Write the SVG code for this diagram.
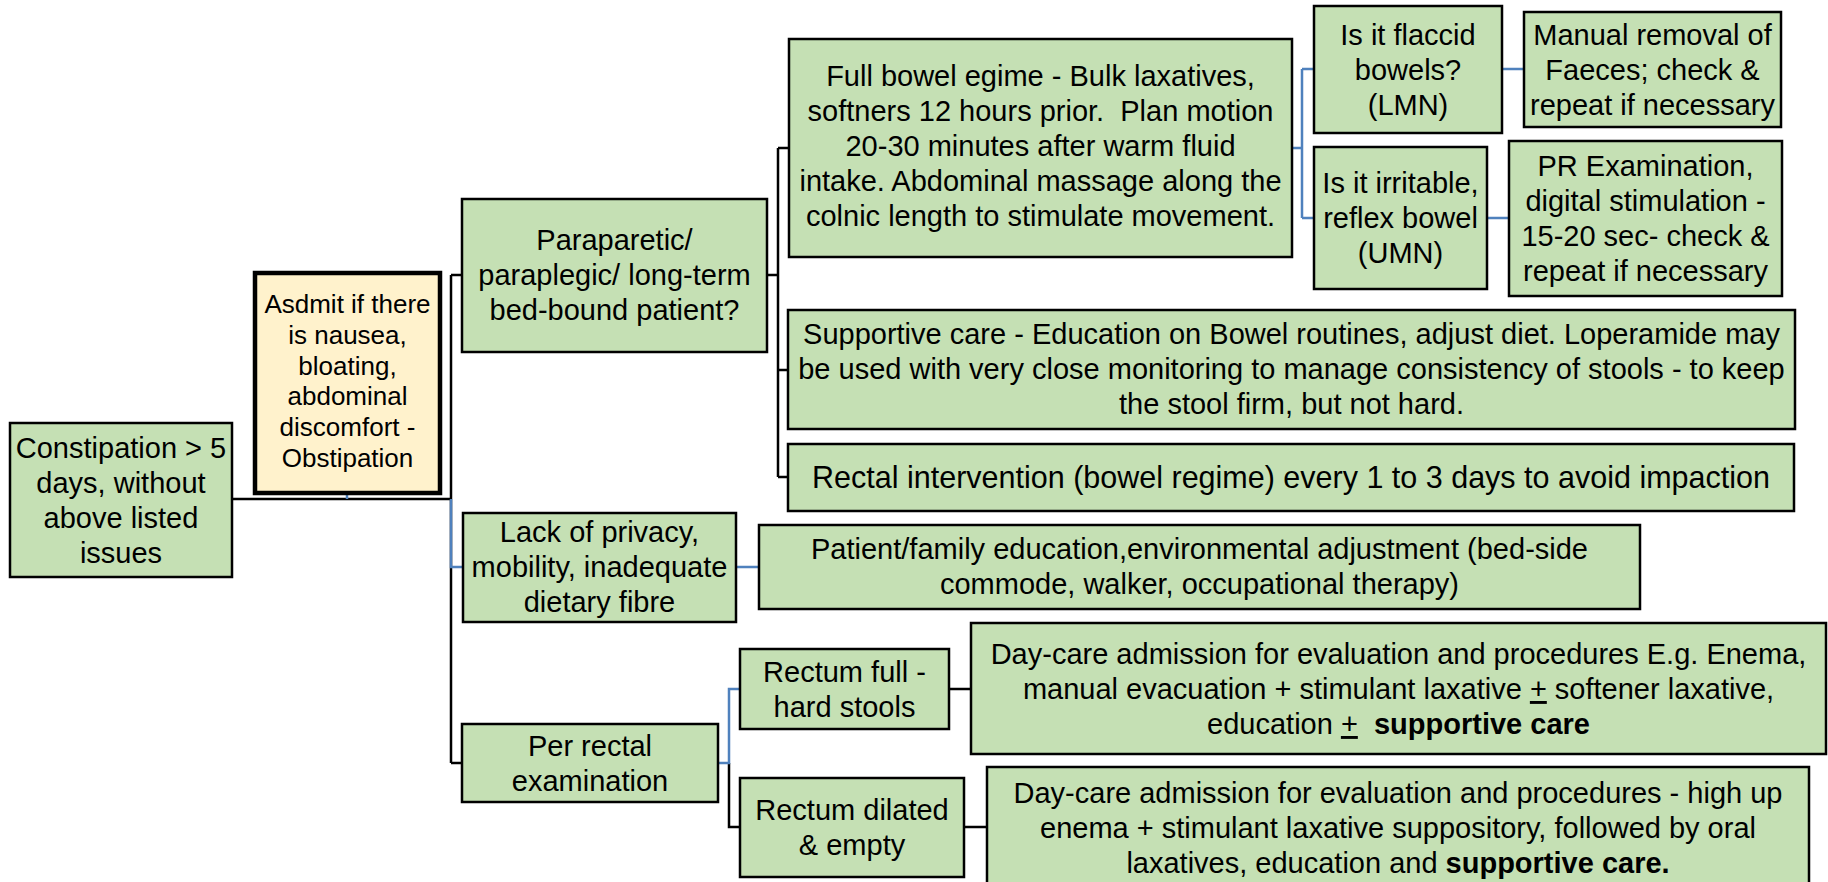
<svg xmlns="http://www.w3.org/2000/svg" width="1828" height="882" viewBox="0 0 1828 882">
<style>
.box{fill:#C5E0B4;stroke:#000;stroke-width:2.5}
.admit{fill:#FFF2CC;stroke:#000;stroke-width:4.5}
.t{font-family:"Liberation Sans",Arial,sans-serif;font-size:29px;fill:#000;text-anchor:middle}
.ts{font-size:26px}
.tl{font-size:30.5px}
.b{font-weight:bold}
.u{text-decoration:underline}
.ck{fill:none;stroke:#000;stroke-width:2.5}
.cb{fill:none;stroke:#4F81BD;stroke-width:2.5}
</style>
<rect width="1828" height="882" fill="#fff"/>
<g id="connectors">
<path class="ck" d="M232,499 H451 M451,275 V763 M451,275 H462 M451,763 H462"/>
<path class="ck" d="M767,275 H778 M778,148 V477 M778,148 H789 M778,370 H788 M778,477 H788"/>
<path class="ck" d="M729,763 V827 H740 M949,689 H971 M964,827 H987"/>
<path class="cb" d="M347,493 V499 M451,499 V567 H463 M736,567 H759"/>
<path class="cb" d="M718,763 H729 V689 H740"/>
<path class="cb" d="M1292,148 H1302 M1302,69 V218 M1302,69 H1314 M1302,218 H1314 M1502,69 H1524 M1487,218 H1509"/>
</g>
<g id="n_constip">
<rect class="box" x="10" y="423" width="222" height="154"/>
<text class="t"><tspan x="121" y="458">Constipation &gt; 5</tspan><tspan x="121" y="493">days, without</tspan><tspan x="121" y="528">above listed</tspan><tspan x="121" y="563">issues</tspan></text>
</g>
<g id="n_admit">
<rect class="admit" x="255" y="273" width="185" height="220"/>
<text class="t ts"><tspan x="347.5" y="313">Asdmit if there</tspan><tspan x="347.5" y="344">is nausea,</tspan><tspan x="347.5" y="375">bloating,</tspan><tspan x="347.5" y="405">abdominal</tspan><tspan x="347.5" y="436">discomfort -</tspan><tspan x="347.5" y="467">Obstipation</tspan></text>
</g>
<g id="n_para">
<rect class="box" x="462" y="199" width="305" height="153"/>
<text class="t"><tspan x="614.5" y="250">Paraparetic/</tspan><tspan x="614.5" y="285">paraplegic/ long-term</tspan><tspan x="614.5" y="320">bed-bound patient?</tspan></text>
</g>
<g id="n_lack">
<rect class="box" x="463" y="513" width="273" height="109"/>
<text class="t"><tspan x="599.5" y="542">Lack of privacy,</tspan><tspan x="599.5" y="577">mobility, inadequate</tspan><tspan x="599.5" y="612">dietary fibre</tspan></text>
</g>
<g id="n_pr">
<rect class="box" x="462" y="724" width="256" height="78"/>
<text class="t"><tspan x="590" y="756">Per rectal</tspan><tspan x="590" y="791">examination</tspan></text>
</g>
<g id="n_full">
<rect class="box" x="789" y="39" width="503" height="218"/>
<text class="t" xml:space="preserve"><tspan x="1040.5" y="86">Full bowel egime - Bulk laxatives,</tspan><tspan x="1040.5" y="121">softners 12 hours prior.  Plan motion</tspan><tspan x="1040.5" y="156">20-30 minutes after warm fluid</tspan><tspan x="1040.5" y="191">intake. Abdominal massage along the</tspan><tspan x="1040.5" y="226">colnic length to stimulate movement.</tspan></text>
</g>
<g id="n_supp">
<rect class="box" x="788" y="310" width="1007" height="119"/>
<text class="t"><tspan x="1291.5" y="344">Supportive care - Education on Bowel routines, adjust diet. Loperamide may</tspan><tspan x="1291.5" y="379">be used with very close monitoring to manage consistency of stools - to keep</tspan><tspan x="1291.5" y="414">the stool firm, but not hard.</tspan></text>
</g>
<g id="n_rectal">
<rect class="box" x="788" y="444" width="1006" height="67"/>
<text class="t tl"><tspan x="1291" y="488">Rectal intervention (bowel regime) every 1 to 3 days to avoid impaction</tspan></text>
</g>
<g id="n_flaccid">
<rect class="box" x="1314" y="6" width="188" height="127"/>
<text class="t"><tspan x="1408" y="45">Is it flaccid</tspan><tspan x="1408" y="80">bowels?</tspan><tspan x="1408" y="115">(LMN)</tspan></text>
</g>
<g id="n_irrit">
<rect class="box" x="1314" y="147" width="173" height="142"/>
<text class="t"><tspan x="1400.5" y="193">Is it irritable,</tspan><tspan x="1400.5" y="228">reflex bowel</tspan><tspan x="1400.5" y="263">(UMN)</tspan></text>
</g>
<g id="n_manual">
<rect class="box" x="1524" y="12" width="257" height="115"/>
<text class="t"><tspan x="1652.5" y="45">Manual removal of</tspan><tspan x="1652.5" y="80">Faeces; check &amp;</tspan><tspan x="1652.5" y="115">repeat if necessary</tspan></text>
</g>
<g id="n_prexam">
<rect class="box" x="1509" y="141" width="273" height="155"/>
<text class="t"><tspan x="1645.5" y="176">PR Examination,</tspan><tspan x="1645.5" y="211">digital stimulation -</tspan><tspan x="1645.5" y="246">15-20 sec- check &amp;</tspan><tspan x="1645.5" y="281">repeat if necessary</tspan></text>
</g>
<g id="n_patient">
<rect class="box" x="759" y="525" width="881" height="84"/>
<text class="t"><tspan x="1199.5" y="559">Patient/family education,environmental adjustment (bed-side</tspan><tspan x="1199.5" y="594">commode, walker, occupational therapy)</tspan></text>
</g>
<g id="n_rfull">
<rect class="box" x="740" y="649" width="209" height="80"/>
<text class="t"><tspan x="844.5" y="682">Rectum full -</tspan><tspan x="844.5" y="717">hard stools</tspan></text>
</g>
<g id="n_rdil">
<rect class="box" x="740" y="778" width="224" height="99"/>
<text class="t"><tspan x="852" y="820">Rectum dilated</tspan><tspan x="852" y="855">&amp; empty</tspan></text>
</g>
<g id="n_day1">
<rect class="box" x="971" y="623" width="855" height="131"/>
<text class="t" xml:space="preserve"><tspan x="1398.5" y="664">Day-care admission for evaluation and procedures E.g. Enema,</tspan><tspan x="1398.5" y="699">manual evacuation + stimulant laxative <tspan class="u">+</tspan> softener laxative,</tspan><tspan x="1398.5" y="734">education <tspan class="u">+</tspan>  <tspan class="b">supportive care</tspan></tspan></text>
</g>
<g id="n_day2">
<rect class="box" x="987" y="767" width="822" height="124"/>
<text class="t"><tspan x="1398" y="803">Day-care admission for evaluation and procedures - high up</tspan><tspan x="1398" y="838">enema + stimulant laxative suppository, followed by oral</tspan><tspan x="1398" y="873">laxatives, education and <tspan class="b">supportive care.</tspan></tspan></text>
</g>
</svg>
